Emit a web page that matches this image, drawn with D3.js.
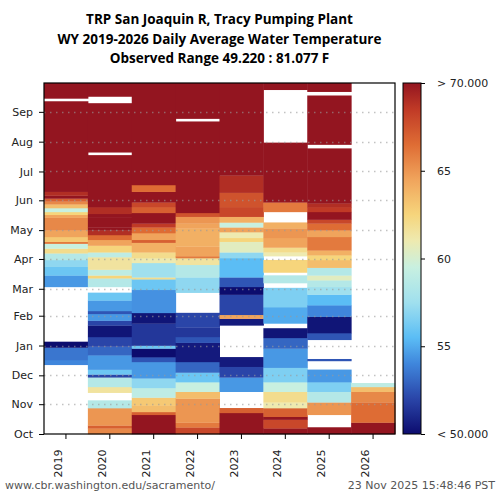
<!DOCTYPE html>
<html>
<head>
<meta charset="utf-8">
<script src="https://cdn.jsdelivr.net/npm/d3@7"></script>
<style>
  body { margin: 0; background: white; }
  svg { display: block; }
</style>
</head>
<body>
<svg id="chart" width="500" height="500"></svg>
<script>
// water years on the x axis
const years = ["2019", "2020", "2021", "2022", "2023", "2024", "2025", "2026"];

// month labels, tick at day-of-water-year (Oct 1 = 0)
const monthLabels = ["Oct", "Nov", "Dec", "Jan", "Feb", "Mar", "Apr", "May", "Jun", "Jul", "Aug", "Sep"];
const monthStarts = [0, 31, 61, 92, 123, 151, 182, 212, 243, 273, 304, 335];

// runs of daily average temperature (F): [firstDay, endDay, value]; gaps = no data
const wy2019 = [
  [72, 77, 54], [77, 90, 53.5], [90, 96, 50],
  [153, 165, 54.5], [165, 174, 56], [174, 181, 57], [181, 188, 58.5], [188, 193, 62],
  [193, 198, 59.5], [198, 200, 66], [200, 205, 63], [205, 212, 64.5], [212, 225, 65.5],
  [225, 228, 64.5], [228, 231, 62.5], [231, 235, 59.5], [235, 239, 63.5], [239, 242, 65.5],
  [242, 245, 67], [245, 248, 75], [248, 252, 69], [252, 346, 75], [349, 365, 75]
];
const wy2020 = [
  [0, 6, 65.5], [6, 9, 67], [9, 27, 65], [27, 35, 58.5],
  [43, 49, 61.5], [49, 59, 58.5], [59, 62, 52], [62, 67, 56], [67, 82, 54.5],
  [82, 91, 53], [91, 101, 52], [101, 113, 50.3], [113, 118, 52], [118, 125, 54.5],
  [125, 128, 52.5], [128, 139, 54.5], [139, 147, 56],
  [153, 162, 58.5], [162, 165, 62.5], [165, 171, 59], [171, 184, 61.5], [184, 189, 59],
  [189, 196, 62.5], [196, 202, 64.5], [202, 207, 66.5], [207, 212, 69], [212, 215, 75],
  [215, 225, 70], [225, 229, 75], [229, 236, 69],
  [236, 290, 75], [293, 344, 75], [351, 365, 75]
];
const wy2021 = [
  [0, 20, 71], [20, 23, 67], [23, 30, 63.5], [30, 38, 63], [38, 48, 59], [48, 58, 57],
  [58, 75, 54.5], [75, 80, 52.5], [80, 89, 50], [89, 92, 56], [92, 115, 51.5],
  [115, 126, 50.3], [126, 150, 54.3], [150, 161, 56], [161, 163, 62], [163, 178, 57.5],
  [178, 183, 61], [183, 189, 62], [189, 199, 64], [199, 202, 67], [202, 209, 64.5],
  [209, 215, 66.5], [215, 219, 68.5], [219, 230, 70.5], [230, 236, 67], [236, 241, 68],
  [241, 252, 75], [252, 259, 66.5], [259, 365, 75]
];
const wy2022 = [
  [0, 7, 68], [7, 12, 66], [12, 37, 65], [37, 44, 63.5], [44, 54, 59.5], [54, 64, 56],
  [64, 75, 53], [75, 95, 50.5], [95, 101, 52.5], [101, 111, 51.5], [111, 126, 52],
  [147, 163, 57], [163, 176, 58.5], [176, 183, 61.5], [183, 185, 66], [185, 195, 64.5],
  [195, 214, 64], [214, 219, 64.5], [219, 226, 65], [226, 230, 67.5],
  [230, 325, 75], [328, 365, 75]
];
const wy2023 = [
  [0, 22, 71], [22, 27, 67], [44, 59, 54.5], [59, 70, 52], [70, 80, 50.5],
  [113, 120, 50.5], [120, 124, 64.5], [124, 145, 52], [145, 153, 50], [153, 163, 52.5],
  [163, 183, 55.5], [183, 189, 57], [189, 200, 60.5], [200, 204, 62.5], [204, 210, 61],
  [210, 215, 64.5], [215, 220, 59.5], [220, 226, 64], [226, 236, 68], [236, 251, 67.5],
  [251, 269, 69], [269, 365, 75]
];
const wy2024 = [
  [0, 6, 70], [6, 15, 68], [15, 18, 70], [18, 27, 67], [27, 33, 61], [33, 44, 62],
  [44, 54, 59.5], [54, 69, 56.5], [69, 89, 54.5], [89, 100, 53], [100, 110, 50.3],
  [115, 132, 55], [132, 152, 56.5], [157, 165, 58.5], [168, 181, 62.5], [185, 189, 61],
  [189, 194, 62], [194, 204, 64.5], [204, 214, 65], [214, 220, 64],
  [231, 241, 66], [241, 303, 75], [358, 365, 75]
];
const wy2025 = [
  [0, 7, 71], [20, 33, 65], [33, 44, 58.5], [44, 54, 56.5], [54, 67, 54.5], [76, 78, 52.5],
  [98, 105, 52.5], [105, 122, 50.3], [122, 134, 54], [134, 145, 55.5], [145, 153, 57.5],
  [153, 160, 58.5], [160, 165, 60.5], [165, 173, 58.5], [173, 181, 63.5], [181, 186, 62.5],
  [186, 191, 64], [191, 205, 66], [205, 212, 64.5], [212, 219, 66.5], [219, 223, 68],
  [223, 231, 70], [231, 236, 68.5], [236, 240, 69],
  [240, 297, 75], [301, 352, 75], [356, 365, 75]
];
const wy2026 = [
  [0, 12, 70], [12, 33, 66.5], [33, 44, 65.5], [44, 49, 63.5], [49, 53, 59]
];
const series = [wy2019, wy2020, wy2021, wy2022, wy2023, wy2024, wy2025, wy2026];

// colour bar
const colorTicks = [55, 60, 65];

const margin = { left: 44, right: 105, top: 83, bottom: 66 };
const width = 500, height = 500;

const svg = d3.select("#chart");

const x = d3.scaleBand()
  .domain(years)
  .range([margin.left, width - margin.right])
  .padding(0);

const y = d3.scaleLinear()
  .domain([0, 365])
  .range([height - margin.bottom, margin.top]);

const color = d3.scaleLinear()
  .domain([50, 52, 54, 55.5, 57.5, 59.5, 61, 62.5, 64.5, 66.5, 68.5, 70])
  .range(["#0c0c6e", "#2a45a8", "#3f86dc", "#5bbdf5", "#a0e0ee", "#c8f0e0",
          "#eeeab0", "#f6d57c", "#f0a45c", "#de6c34", "#c03a26", "#931520"])
  .clamp(true);

// heat cells
const cells = svg.append("g");
series.forEach((runs, i) => {
  cells.selectAll(null)
    .data(runs)
    .enter()
    .append("rect")
    .attr("x", x(years[i]))
    .attr("width", x.bandwidth() + 0.5)
    .attr("y", d => y(d[1]))
    .attr("height", d => y(d[0]) - y(d[1]) + 0.3)
    .attr("fill", d => color(d[2]));
});

// dotted month grid on top of the cells
svg.append("g")
  .selectAll("line")
  .data(monthStarts.slice(1))
  .enter()
  .append("line")
  .attr("x1", margin.left)
  .attr("x2", width - margin.right)
  .attr("y1", d => Math.round(y(d)) + 0.5)
  .attr("y2", d => Math.round(y(d)) + 0.5)
  .attr("stroke", "#999")
  .attr("stroke-opacity", 0.6)
  .attr("stroke-width", 1.5)
  .attr("stroke-dasharray", "1.5,4.5");

// axes
const yAxis = d3.axisLeft(y)
  .tickValues(monthStarts)
  .tickFormat((d, i) => monthLabels[i])
  .tickSize(5)
  .tickPadding(6);

svg.append("g")
  .attr("transform", `translate(${margin.left},0)`)
  .call(yAxis)
  .call(g => g.select(".domain").remove())
  .selectAll("text")
  .style("font-family", "DejaVu Sans")
  .style("font-size", "11px")
  .attr("fill", "#222");

const xAxis = d3.axisBottom(x).tickSize(5).tickPadding(4);

svg.append("g")
  .attr("transform", `translate(0,${height - margin.bottom})`)
  .call(xAxis)
  .call(g => g.select(".domain").remove())
  .selectAll("text")
  .style("font-family", "DejaVu Sans")
  .style("font-size", "11px")
  .attr("fill", "#222")
  .attr("transform", "rotate(-90)")
  .attr("text-anchor", "end")
  .attr("dx", "-0.6em")
  .attr("dy", "-0.35em")
  .attr("y", 0)
  .attr("x", -9);

// frame
svg.append("rect")
  .attr("x", margin.left)
  .attr("y", margin.top)
  .attr("width", width - margin.right - margin.left)
  .attr("height", height - margin.bottom - margin.top)
  .attr("fill", "none")
  .attr("stroke", "black")
  .attr("stroke-width", 1.2);

// colour bar
const barX = 403, barW = 18;
const cy = d3.scaleLinear().domain([50, 70]).range([height - margin.bottom, margin.top]);

const grad = svg.append("defs").append("linearGradient")
  .attr("id", "cbar")
  .attr("x1", 0).attr("x2", 0).attr("y1", 1).attr("y2", 0);
grad.selectAll("stop")
  .data(d3.range(50, 70.01, 0.5))
  .enter()
  .append("stop")
  .attr("offset", d => (d - 50) / 20)
  .attr("stop-color", d => color(d));

svg.append("rect")
  .attr("x", barX)
  .attr("y", margin.top)
  .attr("width", barW)
  .attr("height", height - margin.bottom - margin.top)
  .attr("fill", "url(#cbar)")
  .attr("stroke", "black")
  .attr("stroke-width", 1);

const cAxis = d3.axisRight(cy)
  .tickValues([50].concat(colorTicks, [70]))
  .tickFormat(d => d === 50 ? "< 50.000" : d === 70 ? "> 70.000" : d)
  .tickSize(4)
  .tickPadding(12);

svg.append("g")
  .attr("transform", `translate(${barX + barW},0)`)
  .call(cAxis)
  .call(g => g.select(".domain").remove())
  .selectAll("text")
  .style("font-family", "DejaVu Sans")
  .style("font-size", "11px")
  .attr("fill", "#222");

// title
const titleLines = [
  "TRP San Joaquin R, Tracy Pumping Plant",
  "WY 2019-2026 Daily Average Water Temperature",
  "Observed Range 49.220 : 81.077 F"
];
svg.append("g")
  .selectAll("text")
  .data(titleLines)
  .enter()
  .append("text")
  .attr("x", (margin.left + width - margin.right) / 2)
  .attr("y", (d, i) => 24 + i * 19.5)
  .attr("text-anchor", "middle")
  .style("font-family", "Open Sans")
  .style("font-weight", "bold")
  .style("font-size", "13.5px")
  .text(d => d);

// footer
svg.append("text")
  .attr("x", 5)
  .attr("y", 489)
  .style("font-family", "DejaVu Sans")
  .style("font-size", "11px")
  .attr("fill", "#555")
  .text("www.cbr.washington.edu/sacramento/");

svg.append("text")
  .attr("x", 495)
  .attr("y", 489)
  .attr("text-anchor", "end")
  .style("font-family", "DejaVu Sans")
  .style("font-size", "11px")
  .attr("fill", "#555")
  .text("23 Nov 2025 15:48:46 PST");
</script>
</body>
</html>
